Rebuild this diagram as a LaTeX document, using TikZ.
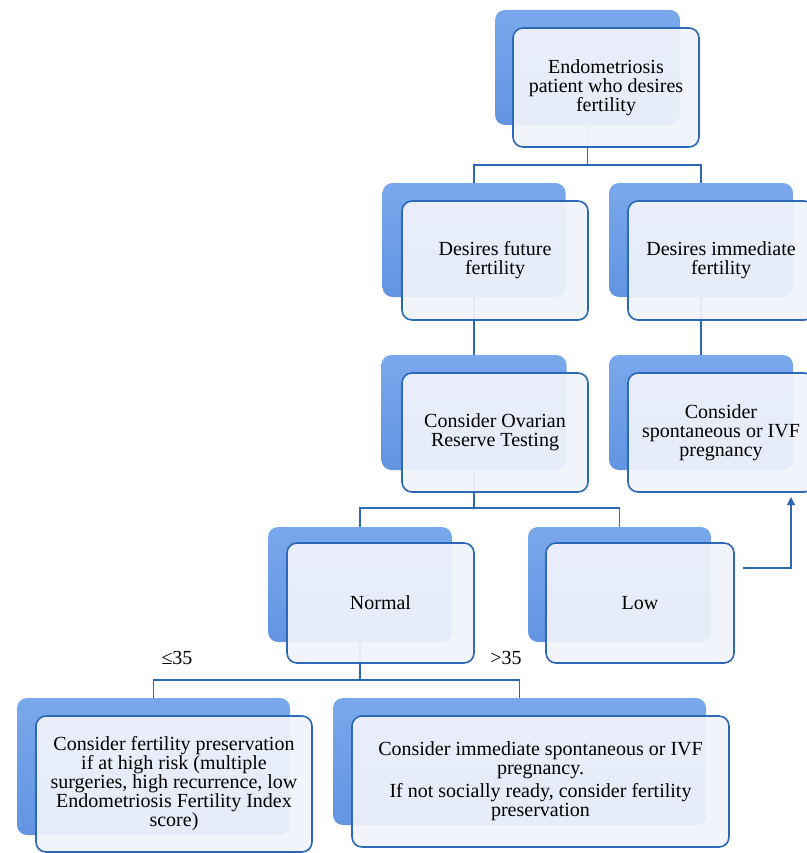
\documentclass[tikz,border=0pt]{standalone}
\usepackage{fontspec}
\setmainfont{Liberation Serif}
\usetikzlibrary{arrows.meta}

\definecolor{backblue}{RGB}{98,148,225}
\definecolor{backtop}{RGB}{122,168,237}
\definecolor{edgeblue}{RGB}{44,104,182}
\definecolor{cardfill}{RGB}{241,243,251}

\begin{document}
\begin{tikzpicture}[x=1pt, y=-1pt,
  back/.style={shape=rectangle, rounded corners=10pt, draw=none, top color=backtop, bottom color=backblue},
  card/.style={shape=rectangle, rounded corners=10pt, draw=edgeblue, line width=1.6pt, fill=cardfill, fill opacity=0.93, text opacity=1, align=center, font=\rmfamily\fontsize{20}{19}\selectfont},
  link/.style={draw=edgeblue, line width=1.6pt},
  age/.style={font=\rmfamily\fontsize{20}{20}\selectfont}]
\useasboundingbox (0,0) rectangle (806,853);

\node (n1b) [back, minimum width=185pt, minimum height=115pt] at (587.5,67.5) {};
\node (n2b) [back, minimum width=183pt, minimum height=114pt] at (474,240) {};
\node (n3b) [back, minimum width=184pt, minimum height=114pt] at (701,240) {};
\node (n4b) [back, minimum width=185pt, minimum height=115pt] at (474,412.5) {};
\node (n5b) [back, minimum width=184pt, minimum height=115pt] at (701,412.5) {};
\node (n6b) [back, minimum width=184pt, minimum height=115pt] at (360,584.5) {};
\node (n7b) [back, minimum width=183pt, minimum height=115pt] at (619.5,584.5) {};
\node (n8b) [back, minimum width=273pt, minimum height=137pt] at (153.5,766.5) {};
\node (n9b) [back, minimum width=373pt, minimum height=127pt] at (519.5,761.5) {};

\draw[link] (n1b.south) -- ++(0,40) -| (n2b.north);
\draw[link] (n1b.south) -- ++(0,40) -| (n3b.north);
\draw[link] (n2b.south) -- (n4b.north);
\draw[link] (n3b.south) -- (n5b.north);
\draw[link] (n4b.south) -- ++(0,38) -| (n6b.north);
\draw[link] (n4b.south) -- ++(0,38) -| (n7b.north);
\draw[link] (n6b.south) -- ++(0,38) -| (n8b.north);
\draw[link] (n6b.south) -- ++(0,38) -| (n9b.north);

\node (n1) [card, minimum width=186pt, minimum height=119pt] at (606,87.5) {Endometriosis\\ patient who desires\\ fertility};
\node (n2) [card, minimum width=186pt, minimum height=119pt] at (495,260.5) {Desires future\\ fertility};
\node (n3) [card, minimum width=186pt, minimum height=119pt] at (721,260.5) {Desires immediate\\ fertility};
\node (n4) [card, minimum width=186pt, minimum height=119pt] at (495,432.5) {Consider Ovarian\\ Reserve Testing};
\node (n5) [card, minimum width=186pt, minimum height=119pt] at (721,432.5) {Consider\\ spontaneous or IVF\\ pregnancy};
\node (n6) [card, minimum width=187pt, minimum height=120pt] at (380.5,603) {Normal};
\node (n7) [card, minimum width=188pt, minimum height=120pt] at (640,603) {Low};
\node (n8) [card, minimum width=276pt, minimum height=136pt] at (174,784) {Consider fertility preservation\\ if at high risk (multiple\\ surgeries, high recurrence, low\\ Endometriosis Fertility Index\\ score)};
\node (n9) [card, minimum width=377pt, minimum height=131pt] at (540.5,781.5) {Consider immediate spontaneous or IVF\\ pregnancy.\\[4pt] If not socially ready, consider fertility\\ preservation};

\node (young) [age] at (177,658) {≤35};
\node (old) [age] at (506,658) {>35};

\coordinate (lowout) at (743,568);
\coordinate (lowin) at (791,497);
\draw[link, line width=1.3pt, -{Triangle[length=8pt, width=8pt]}] (lowout) -| (lowin);
\end{tikzpicture}
\end{document}
